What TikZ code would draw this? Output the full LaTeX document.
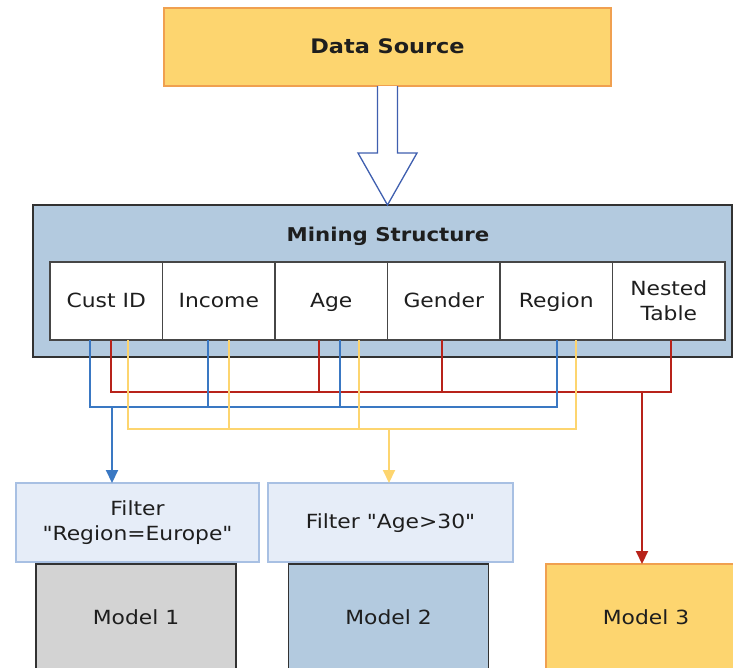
\documentclass[tikz,border=0pt]{standalone}
\usepackage{fontspec}
\setmainfont{DejaVu Sans}[FakeStretch=1.12, Ligatures=TeXOff]
\usetikzlibrary{arrows.meta,calc}
\definecolor{gold}{RGB}{253,213,111}
\definecolor{goldedge}{RGB}{240,160,80}
\definecolor{steel}{RGB}{179,202,223}
\definecolor{paleblue}{RGB}{230,237,248}
\definecolor{paleedge}{RGB}{168,192,227}
\definecolor{greybox}{RGB}{211,211,211}
\definecolor{lnblue}{RGB}{58,120,195}
\definecolor{lnred}{RGB}{184,35,26}
\definecolor{lnyellow}{RGB}{253,213,111}
\definecolor{arrowedge}{RGB}{63,95,175}
\definecolor{darkedge}{RGB}{50,50,50}
\definecolor{celledge}{RGB}{70,70,70}
\definecolor{txt}{RGB}{30,30,30}
\tikzset{
  x=1pt, y=-1pt,
  base/.style={inner sep=0pt, outer sep=0pt, align=center, text=txt, font=\fontsize{19.5}{25}\selectfont},
  oneline/.style={text height=15pt, text depth=3pt},
  sourcebox/.style={base, oneline, draw=goldedge, line width=1.2pt, fill=gold, minimum width=447pt, minimum height=78pt, font=\bfseries\fontsize{20}{24}\selectfont},
  structbox/.style={base, draw=darkedge, line width=2pt, fill=steel, minimum width=699pt, minimum height=152pt},
  cellbox/.style={base, draw=celledge, line width=1.8pt, fill=white, minimum width=112.5pt, minimum height=78pt},
  filterbox/.style={base, draw=paleedge, line width=1.5pt, fill=paleblue, minimum height=79pt},
  modelbox/.style={base, oneline, line width=1.8pt, minimum width=200pt, minimum height=108pt},
  wire/.style={line width=2pt},
  tip/.style={-{Triangle[width=12pt,length=13pt]}},
}
\begin{document}
\begin{tikzpicture}
\useasboundingbox (0,0) rectangle (733,667);
% top source
\node[sourcebox] (ds) at (387.5,47) {Data Source};
% mining structure
\node[structbox] (ms) at (382.5,281) {};
\node[base, oneline, font=\bfseries\fontsize{19}{24}\selectfont] (mst) at (388,235) {Mining Structure};
\node[cellbox, oneline] (c1) at (106.25,301) {Cust ID};
\node[cellbox, oneline] (c2) at (218.75,301) {Income};
\node[cellbox, oneline] (c3) at (331.25,301) {Age};
\node[cellbox, oneline] (c4) at (443.75,301) {Gender};
\node[cellbox, oneline] (c5) at (556.25,301) {Region};
\node[cellbox] (c6) at (668.75,301) {Nested\\Table};
% hollow arrow
\draw[draw=arrowedge, line width=1.3pt, fill=white, line join=miter]
  ([xshift=-10pt]ds.south) -- ([xshift=-10pt]ds.south |- 0,153) -- ([xshift=-29.5pt]ds.south |- 0,153)
  -- (ms.north -| ds.south) -- ([xshift=29.5pt]ds.south |- 0,153) -- ([xshift=10pt]ds.south |- 0,153)
  -- ([xshift=10pt]ds.south);
% filters and models
\node[filterbox, minimum width=243pt] (f1) at (137.5,522.5) {Filter\\"Region=Europe"};
\node[filterbox, oneline, minimum width=245pt] (f2) at (390.5,522.5) {Filter "Age>30"};
\node[modelbox, draw=darkedge, fill=greybox] (m1) at (136,618) {Model 1};
\node[modelbox, draw=darkedge, fill=steel] (m2) at (388.5,618) {Model 2};
\node[modelbox, draw=goldedge, fill=gold] (m3) at (646,618) {Model 3};
% bus levels
\coordinate (busR) at (0,392);
\coordinate (busB) at (0,407);
\coordinate (busY) at (0,429);
% red taps
\coordinate (r1) at ([xshift=5pt]c1.south);
\coordinate (r2) at ([xshift=-12pt]c3.south);
\coordinate (r3) at ([xshift=-2pt]c4.south);
\coordinate (r4) at ([xshift=2pt]c6.south);
\coordinate (ra) at ([xshift=-4pt]m3.north);
% blue taps
\coordinate (b1) at ([xshift=-16pt]c1.south);
\coordinate (b2) at ([xshift=-11pt]c2.south);
\coordinate (b3) at ([xshift=9pt]c3.south);
\coordinate (b4) at ([xshift=1pt]c5.south);
\coordinate (ba) at ([xshift=-25.5pt]f1.north);
% yellow taps
\coordinate (y1) at ([xshift=22pt]c1.south);
\coordinate (y2) at ([xshift=10pt]c2.south);
\coordinate (y3) at ([xshift=28pt]c3.south);
\coordinate (y4) at ([xshift=20pt]c5.south);
\coordinate (ya) at ([xshift=-1.5pt]f2.north);
% red wires
\draw[wire, lnred] (r1) |- (r4 |- busR) -- (r4);
\draw[wire, lnred] (r2) -- (r2 |- busR);
\draw[wire, lnred] (r3) -- (r3 |- busR);
\draw[wire, lnred, tip] (ra |- busR) -- (ra);
% blue wires
\draw[wire, lnblue] (b1) |- (b4 |- busB) -- (b4);
\draw[wire, lnblue] (b2) -- (b2 |- busB);
\draw[wire, lnblue] (b3) -- (b3 |- busB);
\draw[wire, lnblue, tip] (ba |- busB) -- (ba);
% yellow wires
\draw[wire, lnyellow] (y1) |- (y4 |- busY) -- (y4);
\draw[wire, lnyellow] (y2) -- (y2 |- busY);
\draw[wire, lnyellow] (y3) -- (y3 |- busY);
\draw[wire, lnyellow, tip] (ya |- busY) -- (ya);
\end{tikzpicture}
\end{document}
